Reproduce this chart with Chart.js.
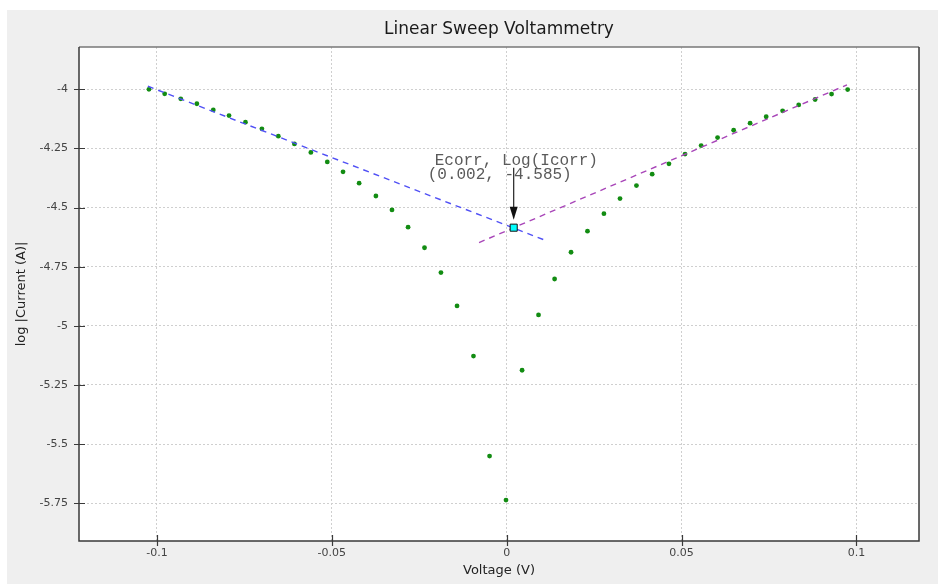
<!DOCTYPE html>
<html>
<head>
<meta charset="utf-8">
<title>Linear Sweep Voltammetry</title>
<script src="https://cdn.jsdelivr.net/npm/chart.js@4.4.0/dist/chart.umd.min.js"></script>
<style>
  body { margin: 0; background: #fff; }
  #wrap { position: absolute; left: 7px; top: 10px; width: 931px; height: 574px; background: #efefef; }
</style>
</head>
<body>
<div id="wrap"><canvas id="lsv" width="931" height="574"></canvas></div>
<script>
// Measured points (V, log|I|)
const voltage = [
  -0.1023, -0.0978, -0.0932, -0.0886, -0.0839, -0.0794, -0.0747, -0.0700, -0.0653, -0.0607,
  -0.0560, -0.0513, -0.0468, -0.0422, -0.0374, -0.0328, -0.0282, -0.0235, -0.0188, -0.0142,
  -0.0095, -0.0049, -0.0002, 0.0044, 0.0091, 0.0137, 0.0184, 0.0231, 0.0278, 0.0324,
  0.0371, 0.0416, 0.0464, 0.0510, 0.0556, 0.0603, 0.0649, 0.0696, 0.0742, 0.0789,
  0.0835, 0.0882, 0.0929, 0.0975
];
const logCurrent = [
  -4.000, -4.019, -4.040, -4.061, -4.087, -4.111, -4.139, -4.167, -4.198, -4.231,
  -4.267, -4.307, -4.349, -4.397, -4.451, -4.510, -4.583, -4.670, -4.775, -4.916,
  -5.128, -5.551, -5.737, -5.188, -4.954, -4.802, -4.689, -4.600, -4.526, -4.462,
  -4.407, -4.359, -4.315, -4.274, -4.238, -4.204, -4.173, -4.143, -4.116, -4.091,
  -4.066, -4.043, -4.020, -4.001
];

// Tafel fit lines (end points)
const cathodicFitV = [-0.1026, 0.0113];
const cathodicFitLog = [-3.987, -4.640];
const anodicFitV = [-0.0079, 0.0973];
const anodicFitLog = [-4.648, -3.981];

// Corrosion point
const ecorr = 0.002;
const logIcorr = -4.585;

const xTicks = [-0.1, -0.05, 0, 0.05, 0.1];
const yTicks = [-4, -4.25, -4.5, -4.75, -5, -5.25, -5.5, -5.75];

const toXY = (xs, ys) => xs.map((x, i) => ({ x: x, y: ys[i] }));

// White plot area on the grey panel
const plotBackground = {
  id: 'plotBackground',
  beforeDraw(chart) {
    const { ctx, chartArea: a } = chart;
    ctx.save();
    ctx.fillStyle = '#ffffff';
    ctx.fillRect(a.left, a.top, a.right - a.left, a.bottom - a.top);
    ctx.restore();
  }
};

// Frame, crossing tick marks and the Ecorr annotation
const frameAndNotes = {
  id: 'frameAndNotes',
  afterDatasetsDraw(chart) {
    const { ctx, chartArea: a, scales } = chart;
    ctx.save();

    ctx.lineWidth = 1.5;
    ctx.strokeStyle = '#777';
    ctx.beginPath();
    ctx.moveTo(a.left, a.top);
    ctx.lineTo(a.right, a.top);
    ctx.stroke();
    ctx.strokeStyle = '#3a3a3a';
    ctx.beginPath();
    ctx.moveTo(a.right, a.top);
    ctx.lineTo(a.right, a.bottom);
    ctx.lineTo(a.left, a.bottom);
    ctx.lineTo(a.left, a.top);
    ctx.stroke();

    ctx.lineWidth = 1.2;
    ctx.beginPath();
    xTicks.forEach((v) => {
      const px = Math.round(scales.x.getPixelForValue(v)) + 0.5;
      ctx.moveTo(px, a.bottom - 6);
      ctx.lineTo(px, a.bottom + 5);
    });
    yTicks.forEach((v) => {
      const py = Math.round(scales.y.getPixelForValue(v)) + 0.5;
      ctx.moveTo(a.left - 5, py);
      ctx.lineTo(a.left + 6, py);
    });
    ctx.stroke();

    // annotation
    const px = scales.x.getPixelForValue(ecorr);
    const py = scales.y.getPixelForValue(logIcorr);
    ctx.font = '16px "Liberation Mono", monospace';
    ctx.fillStyle = '#5a5a5a';
    ctx.textBaseline = 'middle';
    ctx.textAlign = 'left';
    ctx.fillText('Ecorr, Log(Icorr)', px - 79, py - 67);
    ctx.fillText('(' + ecorr.toFixed(3) + ', ' + logIcorr.toFixed(3) + ')', px - 86, py - 53);

    ctx.strokeStyle = '#222';
    ctx.fillStyle = '#111';
    ctx.lineWidth = 1.2;
    ctx.beginPath();
    ctx.moveTo(px, py - 60);
    ctx.lineTo(px, py - 18);
    ctx.stroke();
    ctx.beginPath();
    ctx.moveTo(px, py - 8);
    ctx.lineTo(px - 4, py - 21);
    ctx.lineTo(px + 4, py - 21);
    ctx.closePath();
    ctx.fill();

    ctx.restore();
  }
};

const tickFont = { family: '"DejaVu Sans", sans-serif', size: 11 };

new Chart(document.getElementById('lsv'), {
  type: 'scatter',
  data: {
    datasets: [
      {
        label: 'Ecorr',
        data: [{ x: ecorr, y: logIcorr }],
        pointStyle: 'rect',
        pointRadius: 5,
        backgroundColor: '#00ffff',
        borderColor: '#111',
        borderWidth: 1,
        order: 0
      },
      {
        label: 'Cathodic fit',
        data: toXY(cathodicFitV, cathodicFitLog),
        showLine: true,
        borderColor: '#5050f5',
        borderWidth: 1.4,
        borderDash: [6, 5],
        pointRadius: 0,
        order: 1
      },
      {
        label: 'Anodic fit',
        data: toXY(anodicFitV, anodicFitLog),
        showLine: true,
        borderColor: '#a845b8',
        borderWidth: 1.4,
        borderDash: [6, 5],
        pointRadius: 0,
        order: 2
      },
      {
        label: 'log |I|',
        data: toXY(voltage, logCurrent),
        pointRadius: 2.4,
        backgroundColor: '#128c12',
        borderColor: '#128c12',
        borderWidth: 0,
        order: 3
      }
    ]
  },
  plugins: [plotBackground, frameAndNotes],
  options: {
    responsive: false,
    animation: false,
    layout: { padding: { top: 0, right: 19, bottom: 0, left: 0 } },
    plugins: {
      legend: { display: false },
      tooltip: { enabled: false },
      title: {
        display: true,
        fullSize: false,
        text: 'Linear Sweep Voltammetry',
        color: '#1a1a1a',
        font: { family: '"DejaVu Sans", sans-serif', size: 17, weight: 'normal' },
        padding: { top: 9.8, bottom: 6.8 }
      }
    },
    scales: {
      x: {
        type: 'linear',
        min: -0.1223,
        max: 0.1179,
        afterBuildTicks: (scale) => { scale.ticks = xTicks.map((v) => ({ value: v })); },
        afterFit: (scale) => { scale.height = 43; },
        ticks: { callback: (v) => String(v), font: tickFont, color: '#444', padding: 6, maxRotation: 0 },
        grid: { color: '#cfcfcf', drawTicks: false },
        border: { display: false, dash: [2, 2] },
        title: {
          display: true,
          text: 'Voltage (V)',
          color: '#222',
          font: { family: '"DejaVu Sans", sans-serif', size: 13 },
          padding: { top: 0, bottom: 6 }
        }
      },
      y: {
        type: 'linear',
        min: -5.910,
        max: -3.821,
        afterBuildTicks: (scale) => { scale.ticks = yTicks.map((v) => ({ value: v })); },
        afterFit: (scale) => { scale.width = 72; },
        ticks: { callback: (v) => String(v), font: tickFont, color: '#444', padding: 11 },
        grid: { color: '#cfcfcf', drawTicks: false },
        border: { display: false, dash: [2, 2] },
        title: {
          display: true,
          text: 'log |Current (A)|',
          color: '#222',
          font: { family: '"DejaVu Sans", sans-serif', size: 13 },
          padding: { top: 7, bottom: 0 }
        }
      }
    }
  }
});
</script>
</body>
</html>
